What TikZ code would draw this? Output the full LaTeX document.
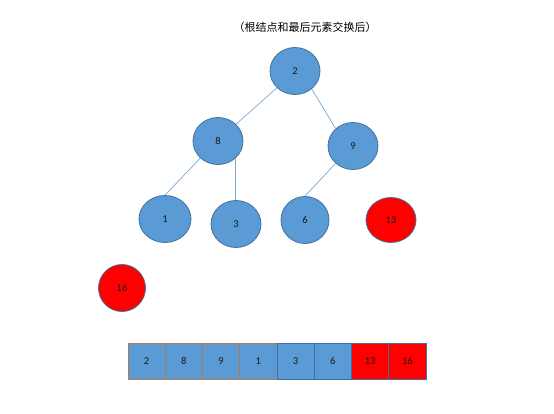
\documentclass[tikz,border=0pt]{standalone}
\usepackage{fontspec}
\setmainfont{Carlito}
\newfontfamily\cjk{Noto Sans CJK SC}
\usetikzlibrary{shapes.geometric}
\definecolor{heapblue}{HTML}{5B9BD5}
\definecolor{heapedge}{HTML}{41719C}
\definecolor{heapred}{HTML}{FF0000}
\definecolor{cellbrown}{HTML}{B07A55}
\begin{document}
\begin{tikzpicture}[x=1pt, y=-1pt,
    heapnode/.style={ellipse, draw=heapedge, line width=0.8pt, fill=heapblue, minimum width=50pt, minimum height=47pt, inner sep=0pt, font=\fontsize{10.5}{12}\selectfont, text=black!90},
    donenode/.style={heapnode, fill=heapred},
    link/.style={draw=heapblue!85, line width=0.7pt},
    cell/.style={rectangle, draw=heapedge, line width=0.8pt, fill=heapblue, minimum width=37.25pt, minimum height=36pt, inner sep=0pt, font=\fontsize{10.5}{12}\selectfont, text=black!90},
    oldcell/.style={cell, draw=cellbrown},
    donecell/.style={cell, fill=heapred}
]
    \useasboundingbox (0,0) rectangle (554,413);
    \node[font=\cjk\fontsize{11}{13}\selectfont] (title) at (305,27) {（根结点和最后元素交换后）};

    % heap
    \node[heapnode] (n2) at (295,71) {2};
    \node[heapnode] (n8) at (218,141) {8};
    \node[heapnode] (n9) at (353,146) {9};
    \node[heapnode, minimum width=52pt] (n1) at (165,219) {1};
    \node[heapnode] (n3) at (236,224) {3};
    \node[heapnode, minimum width=48pt] (n6) at (305,220) {6};
    \node[donenode, minimum height=45pt] (n13) at (391,220) {13};
    \node[donenode, minimum width=47pt] (n16) at (122,288) {16};

    \draw[link] (n2.-137) -- (n8.43);
    \draw[link] (n2.-47) -- (n9.135);
    \draw[link] (n8.-136) -- (n1.north);
    \draw[link] (n8.-44) -- (n8.-44 |- n3.north);
    \draw[link] (n9.-135) -- (n6.north);

    % array
    \node[oldcell] (a1) at (146.6,361) {2};
    \node[oldcell] (a2) at (183.9,361) {8};
    \node[oldcell] (a3) at (221.1,361) {9};
    \node[oldcell] (a4) at (258.4,361) {1};
    \node[cell] (a5) at (295.6,361) {3};
    \node[cell] (a6) at (332.9,361) {6};
    \node[donecell] (a7) at (370.1,361) {13};
    \node[donecell] (a8) at (407.4,361) {16};
\end{tikzpicture}
\end{document}
